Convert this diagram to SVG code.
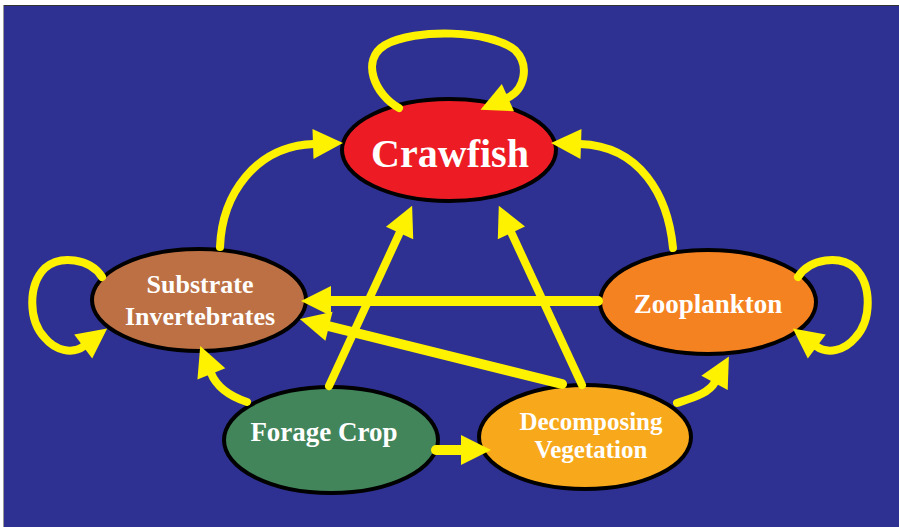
<svg xmlns="http://www.w3.org/2000/svg" width="899" height="527" viewBox="0 0 899 527">
<style>
.node ellipse{stroke:#000;stroke-width:4}
.node text{font-family:"Liberation Serif","Times New Roman",serif;font-weight:bold;fill:#fff;text-anchor:middle}
.c{fill:none;stroke:#FFF200;stroke-width:8;stroke-linecap:round}
.thick{stroke-width:10}
</style>
<defs>
<marker id="ah" viewBox="0 -15 30 30" refX="1" refY="0" markerWidth="30" markerHeight="30" markerUnits="userSpaceOnUse" orient="auto" overflow="visible">
<path d="M0,-15 L30,0 L0,15Z" fill="#FFF200"/>
</marker>
</defs>
<rect x="0" y="0" width="899" height="527" fill="#fff"/>
<rect x="4" y="5" width="895" height="522" fill="#2E3192"/>
<line x1="3.5" y1="5" x2="3.5" y2="527" stroke="#9a9a9a" stroke-width="1"/>
<line x1="4" y1="5.5" x2="899" y2="5.5" stroke="#333" stroke-width="1"/>

<g id="crawfish" class="node">
<ellipse cx="449" cy="150" rx="107" ry="51" fill="#ED1C24"/>
<text x="450" y="167" font-size="40">Crawfish</text>
</g>
<g id="substrate" class="node">
<ellipse cx="199" cy="300" rx="107" ry="51" fill="#BC7043"/>
<text x="200" y="293" font-size="26">Substrate</text>
<text x="200" y="325" font-size="26">Invertebrates</text>
</g>
<g id="zooplankton" class="node">
<ellipse cx="708" cy="302" rx="108" ry="52" fill="#F58220"/>
<text x="708" y="313" font-size="27">Zooplankton</text>
</g>
<g id="forage" class="node">
<ellipse cx="331" cy="440" rx="107" ry="53" fill="#42855A"/>
<text x="324" y="441" font-size="27">Forage Crop</text>
</g>
<g id="decomposing" class="node">
<ellipse cx="585" cy="437" rx="106" ry="52" fill="#F7A81B"/>
<text x="591" y="430" font-size="25">Decomposing</text>
<text x="591" y="458" font-size="25">Vegetation</text>
</g>

<g id="connectors">
<path class="c" d="M399,108 C375,95 360,60 385,45 C415,28 490,30 515,50 C530,65 525,90 507,98" marker-end="url(#ah)"/>
<path class="c" d="M220,247 C222,195 255,146 314,144" marker-end="url(#ah)"/>
<path class="c" d="M673,248 C668,195 640,146 580,144" marker-end="url(#ah)"/>
<path class="c thick" d="M598,301 L330,301" marker-end="url(#ah)"/>
<path class="c thick" d="M562,384 L328,326" marker-end="url(#ah)"/>
<path class="c" d="M329,386 L400,232" marker-end="url(#ah)"/>
<path class="c" d="M582,385 L511,232" marker-end="url(#ah)"/>
<path class="c" d="M247,402 C232,397 217,388 211,373" marker-end="url(#ah)"/>
<path class="c" d="M677,403 C695,397 709,393 715,382" marker-end="url(#ah)"/>
<path class="c thick" d="M436,450 L462,450" marker-end="url(#ah)"/>
<path class="c" d="M102,277 C90,258 60,255 45,268 C28,285 28,320 45,338 C55,350 72,355 84,346" marker-end="url(#ah)"/>
<path class="c" d="M798,277 C810,258 840,255 855,268 C872,285 872,320 855,338 C845,350 828,355 816,346" marker-end="url(#ah)"/>
</g>
</svg>
